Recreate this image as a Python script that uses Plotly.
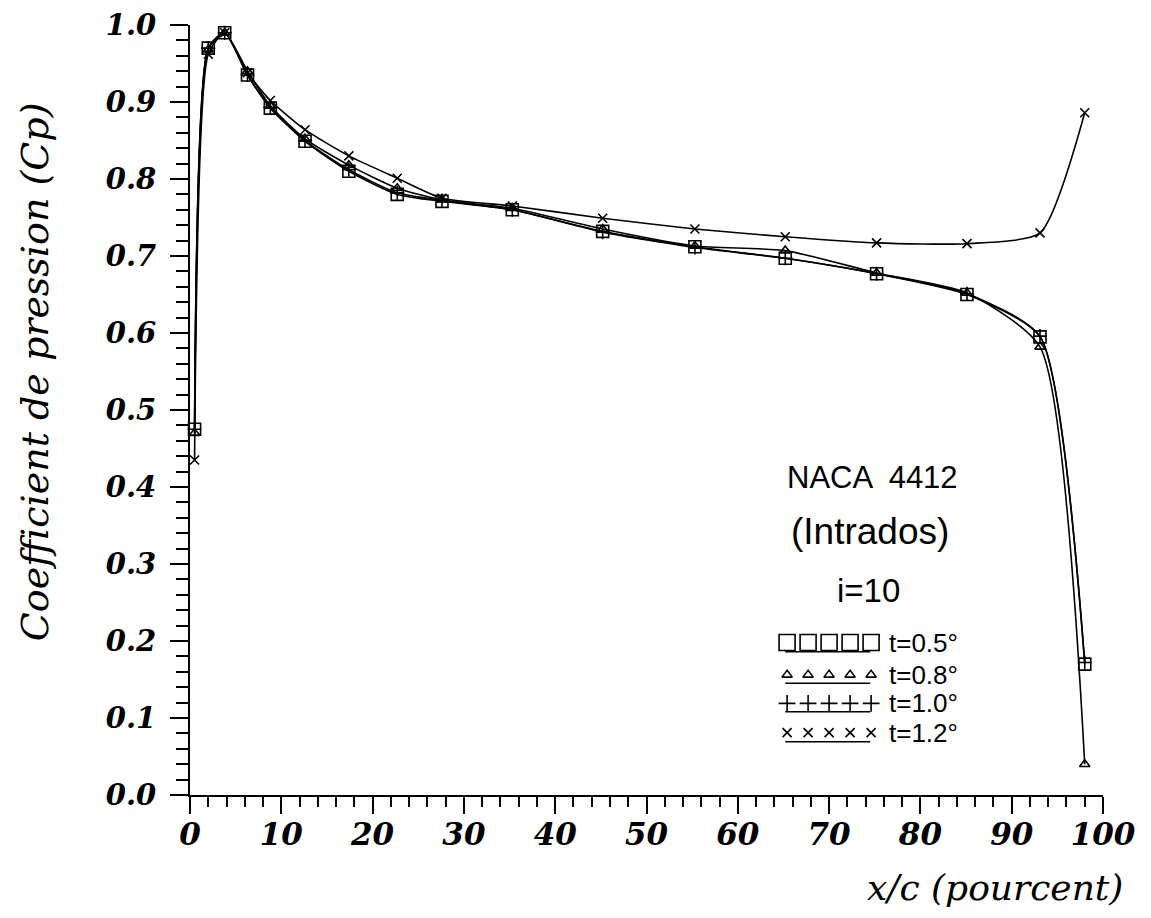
import plotly.graph_objects as go

# ---- data ----
x_pos = [0.5, 2.0, 3.8, 6.3, 8.8, 12.6, 17.4, 22.7, 27.6, 35.3, 45.2, 55.3, 65.2, 75.2, 85.1, 93.1, 98.0]
cp_t05 = [0.475, 0.970, 0.990, 0.935, 0.892, 0.849, 0.810, 0.780, 0.771, 0.760, 0.732, 0.712, 0.697, 0.677, 0.650, 0.595, 0.170]
cp_t08 = [0.470, 0.968, 0.990, 0.940, 0.895, 0.852, 0.818, 0.788, 0.773, 0.762, 0.735, 0.713, 0.707, 0.678, 0.652, 0.582, 0.040]
cp_t10 = [0.475, 0.970, 0.990, 0.935, 0.893, 0.850, 0.812, 0.782, 0.772, 0.760, 0.731, 0.711, 0.697, 0.677, 0.651, 0.596, 0.172]
cp_t12 = [0.435, 0.962, 0.990, 0.938, 0.902, 0.864, 0.830, 0.801, 0.775, 0.765, 0.749, 0.735, 0.725, 0.717, 0.716, 0.730, 0.886]

series_names = ["t=0.5°", "t=0.8°", "t=1.0°", "t=1.2°"]
series_values = [cp_t05, cp_t08, cp_t10, cp_t12]
series_symbols = ["square-open", "triangle-up-open", "cross-thin-open", "x-thin-open"]
series_sizes = [12, 9, 10, 9]
key_sizes = [16, 9, 12, 9]

# legend key layout (in data coordinates of the plot)
key_x = [65.4, 67.7, 70.0, 72.3, 74.6]
key_marker_y = [0.198, 0.156, 0.119, 0.081]
key_line_y = [0.186, 0.145, 0.108, 0.069]
key_line_x = [65.2, 74.5]
key_text_x = 76.3

fig = go.Figure()

for name, vals, sym, sz in zip(series_names, series_values, series_symbols, series_sizes):
    fig.add_trace(go.Scatter(
        x=x_pos, y=vals, mode="lines+markers", name=name,
        line=dict(color="black", width=1.6, shape="spline", smoothing=0.6),
        marker=dict(symbol=sym, size=sz, color="black", line=dict(color="black", width=1.6)),
        showlegend=False, cliponaxis=False,
    ))

# legend keys
for i, (name, sym, sz) in enumerate(zip(series_names, series_symbols, key_sizes)):
    fig.add_trace(go.Scatter(
        x=key_x, y=[key_marker_y[i]] * len(key_x), mode="markers",
        marker=dict(symbol=sym, size=sz, color="black", line=dict(color="black", width=1.6)),
        showlegend=False, hoverinfo="skip",
    ))
    fig.add_trace(go.Scatter(
        x=key_line_x, y=[key_line_y[i]] * 2, mode="lines",
        line=dict(color="black", width=1.5),
        showlegend=False, hoverinfo="skip",
    ))
    fig.add_annotation(
        x=key_text_x, y=key_marker_y[i], xref="x", yref="y", text=name,
        showarrow=False, xanchor="left", yanchor="middle",
        font=dict(family="Liberation Sans", size=26, color="black"),
    )

fig.add_annotation(x=74.7, y=0.412, xref="x", yref="y", text="NACA  4412",
                   showarrow=False, font=dict(family="Liberation Sans", size=31, color="black"))
fig.add_annotation(x=74.5, y=0.342, xref="x", yref="y", text="(Intrados)",
                   showarrow=False, font=dict(family="Liberation Sans", size=37, color="black"))
fig.add_annotation(x=74.3, y=0.266, xref="x", yref="y", text="i=10",
                   showarrow=False, font=dict(family="Liberation Sans", size=33, color="black"))

# axis titles
fig.add_annotation(x=1.0, y=0, xref="paper", yref="paper", yshift=-70, xshift=22,
                   text="x/c (pourcent)", showarrow=False, xanchor="right", yanchor="top",
                   font=dict(family="DejaVu Serif", size=36, color="black", style="italic"))
fig.add_annotation(x=0, y=0.549, xref="paper", yref="paper", xshift=-155,
                   text="Coefficient de pression (Cp)", textangle=-90, showarrow=False,
                   xanchor="center", yanchor="middle",
                   font=dict(family="DejaVu Serif", size=38, color="black", style="italic"))

x_tick_font = dict(family="DejaVu Serif", size=31, color="black", weight="bold", style="italic")
y_tick_font = dict(family="DejaVu Serif", size=29, color="black", weight="bold", style="italic")
clear = "rgba(0,0,0,0)"

fig.update_layout(
    width=1135, height=902,
    margin=dict(l=182, r=40, t=17, b=115, autoexpand=False),
    paper_bgcolor="white", plot_bgcolor="white",
    xaxis=dict(
        range=[0, 100], dtick=10, automargin=False,
        showgrid=True, gridcolor=clear, zeroline=False,
        showline=True, linecolor="black", linewidth=2,
        ticks="outside", ticklen=17, tickwidth=2, tickcolor="black",
        minor=dict(dtick=2, ticks="outside", ticklen=10, tickwidth=2, tickcolor="black",
                   showgrid=True, gridcolor=clear),
        tickfont=x_tick_font, ticklabelstandoff=-6,
    ),
    yaxis=dict(
        range=[0, 1.0], dtick=0.1, tickformat=".1f", automargin=False,
        showgrid=True, gridcolor=clear, zeroline=False,
        showline=True, linecolor="black", linewidth=2,
        ticks="outside", ticklen=18, tickwidth=2, tickcolor="black",
        minor=dict(dtick=0.02, ticks="outside", ticklen=12, tickwidth=2, tickcolor="black",
                   showgrid=True, gridcolor=clear),
        tickfont=y_tick_font, ticklabelstandoff=8,
    ),
)

fig.write_html("out.html")
